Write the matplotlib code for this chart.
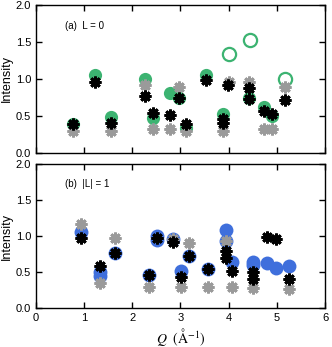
import numpy as np
import matplotlib.pyplot as plt

plt.rcParams['font.family'] = ['Liberation Sans', 'DejaVu Sans']
plt.rcParams['mathtext.fontset'] = 'stix'

# (a) L = 0
a_circ_q = [0.77, 1.22, 1.55, 2.26, 2.43, 2.78, 2.97, 3.12, 3.52, 3.88, 4.43, 4.74, 4.91]
a_circ_i = [0.39, 1.05, 0.48, 1.00, 0.47, 0.81, 0.74, 0.34, 1.05, 0.52, 0.74, 0.62, 0.50]
a_open_q = [4.00, 4.45, 5.17]
a_open_i = [1.34, 1.53, 1.00]
a_black_q = [0.77, 1.22, 1.55, 2.26, 2.43, 2.79, 2.97, 3.12, 3.52, 3.88, 3.88, 3.99, 4.43, 4.43, 4.74, 4.91, 5.17]
a_black_i = [0.39, 0.95, 0.40, 0.77, 0.54, 0.51, 0.74, 0.39, 0.98, 0.46, 0.40, 0.92, 0.87, 0.72, 0.56, 0.53, 0.71]
a_gray_q = [0.77, 1.55, 2.26, 2.43, 2.79, 2.97, 3.12, 3.88, 4.00, 4.43, 4.74, 4.91, 5.17]
a_gray_i = [0.29, 0.29, 0.92, 0.32, 0.32, 0.89, 0.29, 0.29, 0.95, 0.95, 0.32, 0.32, 0.89]

# (b) |L| = 1
b_circ_q = [0.93, 1.34, 1.34, 1.65, 2.35, 2.52, 2.52, 2.85, 3.02, 3.18, 3.58, 3.94, 3.94, 4.07, 4.50, 4.50, 4.79, 4.98, 5.25]
b_circ_i = [1.06, 0.50, 0.45, 0.77, 0.46, 1.00, 0.95, 0.96, 0.52, 0.72, 0.55, 1.09, 0.93, 0.64, 0.64, 0.60, 0.63, 0.56, 0.59]
b_black_q = [0.93, 1.34, 1.65, 2.35, 2.52, 2.85, 3.02, 3.18, 3.58, 3.94, 3.94, 4.07, 4.50, 4.50, 4.79, 4.98, 5.25]
b_black_i = [0.97, 0.58, 0.77, 0.46, 0.98, 0.92, 0.43, 0.72, 0.55, 0.80, 0.70, 0.52, 0.50, 0.41, 0.99, 0.96, 0.40]
b_gray_q = [0.93, 1.34, 1.65, 2.35, 2.85, 3.02, 3.18, 3.58, 3.94, 4.07, 4.50, 5.25]
b_gray_i = [1.17, 0.35, 0.97, 0.29, 0.96, 0.29, 0.91, 0.30, 0.93, 0.30, 0.28, 0.27]

green = '#3cb371'
blue = '#3f6fdc'
gray = '#9a9a9a'
star = (8, 2, 0)

fig = plt.figure(figsize=(3.32, 3.47), dpi=100)
ax1 = fig.add_axes([0.108, 0.560, 0.871, 0.426])
ax2 = fig.add_axes([0.108, 0.112, 0.871, 0.415])

ax1.plot(a_circ_q, a_circ_i, 'o', color=green, ms=9.5, mec='none', zorder=2)
ax1.plot(a_open_q, a_open_i, 'o', mfc='none', mec=green, ms=9.5, mew=1.6, zorder=2)
ax1.plot(a_gray_q, a_gray_i, ls='none', marker=star, color=gray, ms=8.5, mew=2, zorder=3)
ax1.plot(a_black_q, a_black_i, ls='none', marker=star, color='black', ms=8.5, mew=2, zorder=4)

ax2.plot(b_circ_q, b_circ_i, 'o', color=blue, ms=10, mec='none', zorder=2)
ax2.plot(b_gray_q, b_gray_i, ls='none', marker=star, color=gray, ms=8.5, mew=2, zorder=3)
ax2.plot(b_black_q, b_black_i, ls='none', marker=star, color='black', ms=8.5, mew=2, zorder=4)

for ax in (ax1, ax2):
    ax.set_xlim(0, 6)
    ax.set_ylim(0, 2.0)
    ax.set_yticks([0, 0.5, 1.0, 1.5, 2.0])
    ax.set_xticks(range(7))
    ax.tick_params(direction='in', top=True, right=True, labelsize=8, length=4, width=1)
    ax.set_ylabel('Intensity', fontsize=9, labelpad=2)
    for s in ax.spines.values():
        s.set_linewidth(1)

ax1.tick_params(labelbottom=False)
ax1.text(0.10, 0.84, '(a)  L = 0', transform=ax1.transAxes, fontsize=7)
ax2.text(0.10, 0.84, '(b)  |L| = 1', transform=ax2.transAxes, fontsize=7)
ax2.set_xlabel(r'$Q\ \ (\mathrm{\AA}^{-1})$', fontsize=10, labelpad=2)

fig.savefig('out.png', dpi=100)
